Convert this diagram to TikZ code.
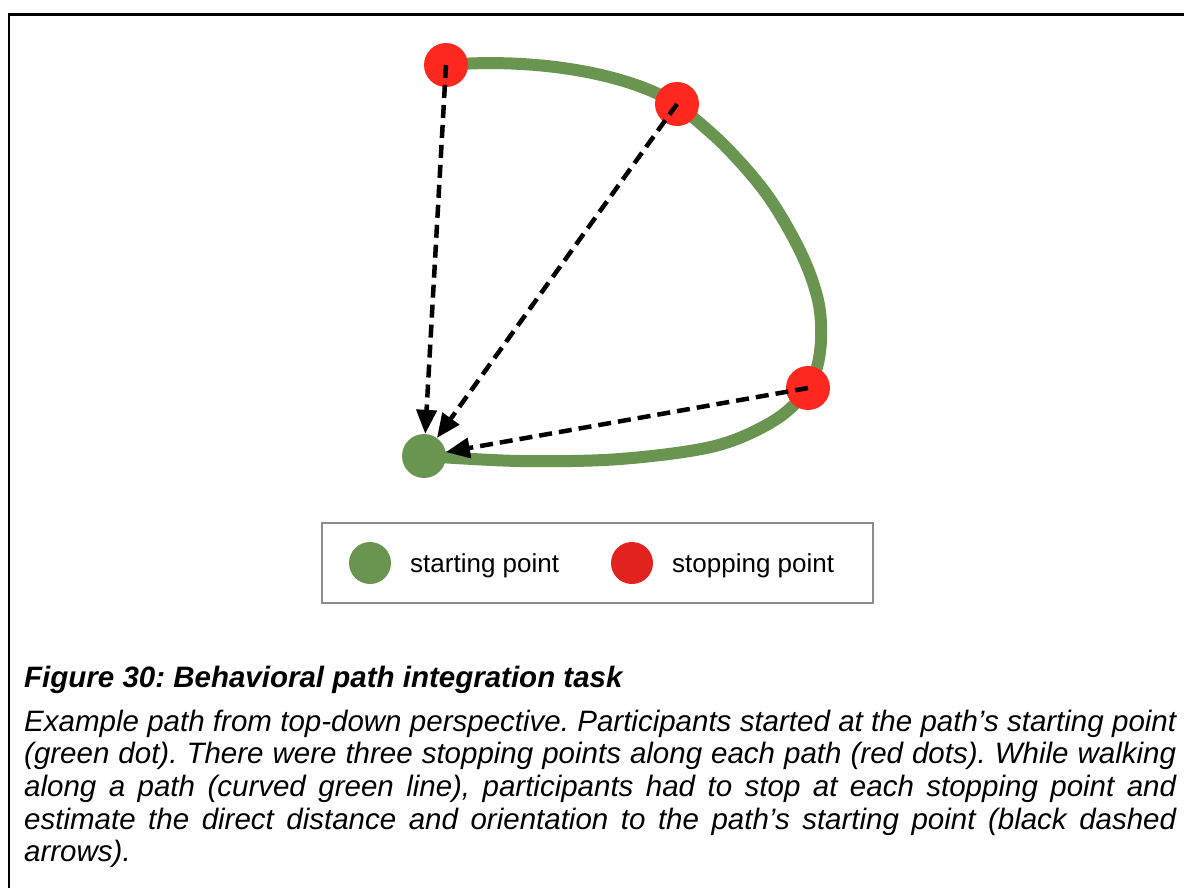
\documentclass[tikz,border=0pt]{standalone}
\usepackage{fontspec}
\setmainfont{Liberation Sans}
\usetikzlibrary{arrows.meta}
\frenchspacing
\definecolor{pathgreen}{RGB}{106,149,80}
\definecolor{stopred}{RGB}{255,40,30}
\definecolor{legendred}{RGB}{226,34,28}
\definecolor{legendframe}{RGB}{140,140,140}
\tikzset{
  dot/.style={circle, inner sep=0pt, minimum size=44pt},
  startdot/.style={dot, fill=pathgreen},
  stopdot/.style={dot, fill=stopred},
  walkpath/.style={draw=pathgreen, line width=12pt, line cap=round},
  homing/.style={line width=4.5pt, dash pattern=on 13pt off 7pt,
    -{Triangle[length=24pt,width=20pt]}},
  legendtext/.style={anchor=base west, inner sep=0pt, font=\fontsize{26pt}{30pt}\selectfont},
  captionline/.style={anchor=base west, inner sep=0pt,
    font=\fontsize{29.5pt}{32.6pt}\selectfont\itshape},
}
\begin{document}
\begin{tikzpicture}[x=1pt, y=-1pt]
\useasboundingbox (0,0) rectangle (1184,887);

% open frame along the left and top edges
\draw[line width=2.6pt] (9,900) -- (9,14.3) -- (1200,14.3);

% dot positions
\coordinate (s0) at (424,456);
\coordinate (s1) at (446,65);
\coordinate (s2) at (677,104);
\coordinate (s3) at (808,388);

% walked path: smooth run from the start round to the second stop,
% then one arc over the top to the first stop
\draw[walkpath] plot[smooth, tension=0.55] coordinates {
  (s0) (520,461) (620,459) (715,446) (775,420) (s3) (820,352) (819,305)
  (802,255) (768,196) (724,145) (s2)};
\draw[walkpath] (s2) .. controls (622,70) and (525,58) .. (s1);

% dots
\node[startdot] (start) at (s0) {};
\node[stopdot] (stopA) at (s1) {};
\node[stopdot] (stopB) at (s2) {};
\node[stopdot] (stopC) at (s3) {};

% homing vectors
\draw[homing] (stopA.center) -- (start);
\draw[homing] (stopB.center) -- (start);
\draw[homing] (stopC.center) -- (start);

% legend
\node[draw=legendframe, line width=1.3pt, minimum width=551pt, minimum height=80pt,
  inner sep=0pt] (legend) at (597.5,563) {};
\node[dot, minimum size=42pt, fill=pathgreen] (lgstart) at (370,563) {};
\node[legendtext] (lgstarttext) at (410,572) {starting point};
\node[dot, minimum size=42pt, fill=legendred] (lgstop) at (632,563) {};
\node[legendtext] (lgstoptext) at (672,572) {stopping point};

% caption
\node[captionline, font=\fontsize{29.5pt}{32.6pt}\selectfont\bfseries\itshape] (title) at (24,687)
  {Figure 30: Behavioral path integration task};
\node[captionline] (cap1) at (24,731) {\makebox[1152pt][s]{Example path from top-down perspective. Participants started at the path’s starting point}};
\node[captionline] (cap2) at (24,763.5) {\makebox[1152pt][s]{(green dot). There were three stopping points along each path (red dots). While walking}};
\node[captionline] (cap3) at (24,796) {\makebox[1152pt][s]{along a path (curved green line), participants had to stop at each stopping point and}};
\node[captionline] (cap4) at (24,829) {\makebox[1152pt][s]{estimate the direct distance and orientation to the path’s starting point (black dashed}};
\node[captionline] (cap5) at (24,861) {arrows).};
\end{tikzpicture}
\end{document}
